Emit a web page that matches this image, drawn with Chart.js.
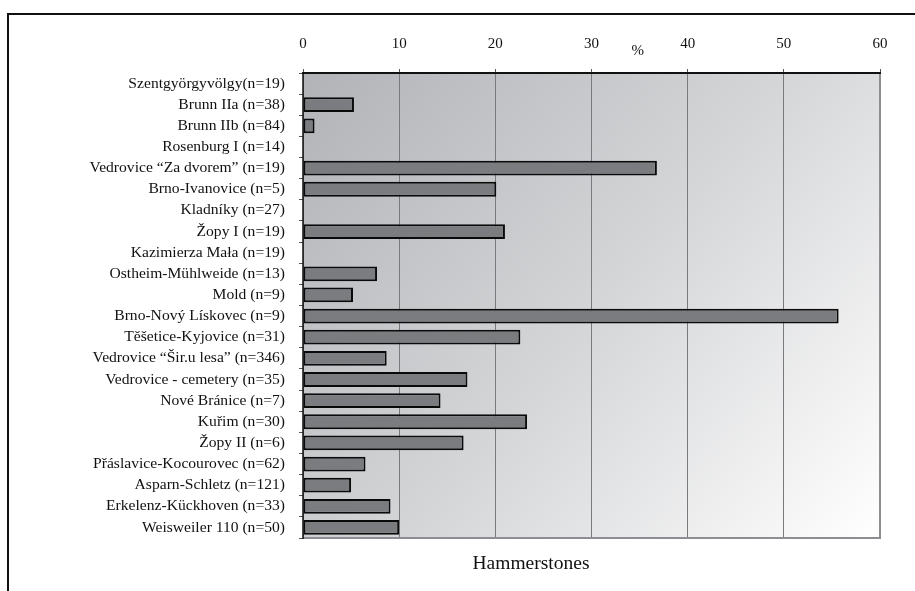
<!DOCTYPE html>
<html>
<head>
<meta charset="utf-8">
<script src="https://cdn.jsdelivr.net/npm/chart.js@4/dist/chart.umd.min.js"></script>
<style>
  html, body { margin: 0; padding: 0; background: #fff; }
  #wrap { position: relative; width: 915px; height: 591px; overflow: hidden; }
  #frame { position: absolute; left: 7px; top: 13px; width: 960px; height: 640px;
           border-top: 2px solid #111; border-left: 2px solid #111; pointer-events: none; }
  canvas { position: absolute; left: 0; top: 0; }
</style>
</head>
<body>
<div id="wrap">
  <canvas id="c" width="915" height="591"></canvas>
  <div id="frame"></div>
</div>
<script>
const categories = [
  "Szentgyörgyvölgy(n=19)",
  "Brunn IIa (n=38)",
  "Brunn IIb (n=84)",
  "Rosenburg I (n=14)",
  "Vedrovice \u201cZa dvorem\u201d (n=19)",
  "Brno-Ivanovice (n=5)",
  "Kladníky (n=27)",
  "Žopy I (n=19)",
  "Kazimierza Mała (n=19)",
  "Ostheim-Mühlweide (n=13)",
  "Mold (n=9)",
  "Brno-Nový Lískovec (n=9)",
  "Těšetice-Kyjovice (n=31)",
  "Vedrovice \u201cŠir.u lesa\u201d (n=346)",
  "Vedrovice - cemetery (n=35)",
  "Nové Bránice (n=7)",
  "Kuřim (n=30)",
  "Žopy II (n=6)",
  "Přáslavice-Kocourovec (n=62)",
  "Asparn-Schletz (n=121)",
  "Erkelenz-Kückhoven (n=33)",
  "Weisweiler 110 (n=50)"
];
const values = [0, 5.3, 1.2, 0, 36.8, 20.1, 0, 21.0, 0, 7.7, 5.2, 55.7, 22.6, 8.7, 17.1, 14.3, 23.3, 16.7, 6.5, 5.0, 9.1, 10.0];
const xTicks = [0, 10, 20, 30, 40, 50, 60];
const axisTitle = "%";
const chartTitle = "Hammerstones";

const SERIF = "'Liberation Serif', 'DejaVu Serif', serif";

const bgPlugin = {
  id: 'bg',
  beforeDraw(chart) {
    const { ctx, chartArea: a } = chart;
    const g = ctx.createLinearGradient(a.left, a.top, a.right, a.bottom);
    g.addColorStop(0, '#b1b3b7');
    g.addColorStop(0.5, '#d4d5d7');
    g.addColorStop(1, '#ffffff');
    ctx.save();
    ctx.fillStyle = g;
    ctx.fillRect(a.left, a.top, a.right - a.left, a.bottom - a.top);
    ctx.restore();
  },
  afterDatasetsDraw(chart) {
    const { ctx, chartArea: a } = chart;
    ctx.save();
    ctx.strokeStyle = '#8e8e92';
    ctx.lineWidth = 2;
    ctx.beginPath();
    ctx.moveTo(a.left, a.bottom);
    ctx.lineTo(a.right, a.bottom);
    ctx.lineTo(a.right, a.top);
    ctx.stroke();
    ctx.strokeStyle = '#111';
    ctx.beginPath();
    ctx.moveTo(a.left - 1, a.top);
    ctx.lineTo(a.right + 1, a.top);
    ctx.stroke();
    ctx.lineWidth = 1.5;
    ctx.beginPath();
    ctx.moveTo(a.left, a.top);
    ctx.lineTo(a.left, a.bottom + 1);
    ctx.stroke();
    // texts
    const xs = chart.scales.x;
    ctx.fillStyle = '#111';
    ctx.textAlign = 'center';
    ctx.textBaseline = 'middle';
    ctx.font = "15px " + SERIF;
    ctx.fillText(axisTitle, xs.getPixelForValue(34.8), 51);
    ctx.font = "19.5px " + SERIF;
    ctx.fillText(chartTitle, 531, 564);
    ctx.restore();
  }
};

new Chart(document.getElementById('c'), {
  type: 'bar',
  data: {
    labels: categories,
    datasets: [{
      data: values,
      backgroundColor: '#7b7c80',
      borderColor: '#0a0a0a',
      borderWidth: 2,
      borderSkipped: false,
      categoryPercentage: 1,
      barPercentage: 0.7
    }]
  },
  options: {
    indexAxis: 'y',
    responsive: false,
    animation: false,
    devicePixelRatio: 1,
    layout: { padding: { left: 0, top: 0, right: 35, bottom: 53 } },
    plugins: { legend: { display: false }, tooltip: { enabled: false } },
    scales: {
      x: {
        position: 'top',
        min: 0, max: 60,
        afterBuildTicks(scale) { scale.ticks = xTicks.map(v => ({ value: v })); },
        afterFit(scale) { scale.height = 73; },
        ticks: { font: { family: SERIF, size: 15 }, color: '#111', padding: 16, maxRotation: 0 },
        grid: { color: '#7a7a7e', lineWidth: 1, tickLength: 4, tickColor: '#555' },
        border: { display: false }
      },
      y: {
        afterFit(scale) { scale.width = 303; },
        ticks: { font: { family: SERIF, size: 15.6 }, color: '#111', padding: 14, autoSkip: false },
        grid: { drawOnChartArea: false, tickLength: 4, tickColor: '#555', offset: true },
        border: { display: false }
      }
    }
  },
  plugins: [bgPlugin]
});
</script>
</body>
</html>
